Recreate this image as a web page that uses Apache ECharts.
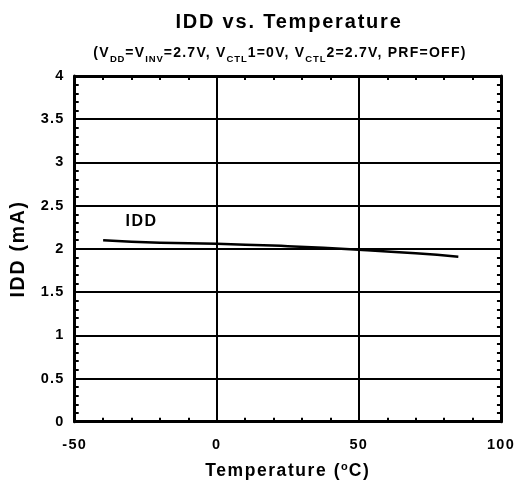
<!DOCTYPE html>
<html><head><meta charset="utf-8">
<script src="https://cdn.jsdelivr.net/npm/echarts@6/dist/echarts.min.js"></script>
<style>html,body{margin:0;padding:0;background:#fff}#c{width:518px;height:486px}</style>
</head><body><div id="c"></div>
<script>
// --- data ---
var temps = [-40, -20, 0, 25, 50, 70, 85];
var idd = [2.10, 2.07, 2.06, 2.03, 1.99, 1.95, 1.91];
var xTicks = [-50, 0, 50, 100];
var yTicks = [0, 0.5, 1, 1.5, 2, 2.5, 3, 3.5, 4];

// slightly wider tracking, like the reference typography
(function () {
  var P = CanvasRenderingContext2D.prototype;
  function setSp(ctx) {
    var m = /(\d+(?:\.\d+)?)px/.exec(ctx.font || '');
    if (m && 'letterSpacing' in ctx) ctx.letterSpacing = (parseFloat(m[1]) * 0.09).toFixed(2) + 'px';
  }
  var ft = P.fillText, mt = P.measureText, st = P.strokeText;
  P.fillText = function () { setSp(this); return ft.apply(this, arguments); };
  P.strokeText = function () { setSp(this); return st.apply(this, arguments); };
  P.measureText = function () { setSp(this); return mt.apply(this, arguments); };
})();

var F = 'Liberation Sans, Arial, sans-serif';
var chart = echarts.init(document.getElementById('c'));
var axisLine = {show: true, onZero: false, lineStyle: {color: '#000', width: 3}};
var tickIn = {show: true, inside: true, length: 5, lineStyle: {color: '#000', width: 2}};
var minorIn = {show: true, splitNumber: 5, length: 4, lineStyle: {color: '#000', width: 2}};
var tickLbl = {fontFamily: F, fontSize: 14.5, fontWeight: 'bold', color: '#000'};
chart.setOption({
  animation: false,
  title: [{
    text: 'IDD vs. Temperature', left: 284, top: 7, textAlign: 'center',
    textStyle: {fontFamily: F, fontSize: 20, fontWeight: 'bold', color: '#000'}
  }, {
    text: '{a|(V}{s|DD}{a|=V}{s|INV}{a|=2.7V, V}{s|CTL}{a|1=0V, V}{s|CTL}{a|2=2.7V, PRF=OFF)}',
    left: 275, top: 33, textAlign: 'center',
    textStyle: {rich: {
      a: {fontFamily: F, fontSize: 14, fontWeight: 'bold', color: '#000', height: 20},
      s: {fontFamily: F, fontSize: 9.5, fontWeight: 'bold', color: '#000', padding: [11, 0, 0, 0], height: 20}
    }}
  }],
  grid: {left: 73, top: 76, right: 13, bottom: 60, containLabel: false},
  xAxis: [{
    type: 'value', min: xTicks[0], max: xTicks[xTicks.length - 1], interval: 50, position: 'bottom',
    axisLine: axisLine, axisTick: tickIn, minorTick: minorIn,
    splitLine: {show: true, lineStyle: {color: '#000', width: 2}},
    axisLabel: Object.assign({margin: 15}, tickLbl),
    name: '{a|Temperature (}{s|o}{a|C)}', nameLocation: 'middle', nameGap: 35,
    nameTextStyle: {rich: {
      a: {fontFamily: F, fontSize: 17.5, fontWeight: 'bold', color: '#000', height: 20},
      s: {fontFamily: F, fontSize: 11, fontWeight: 'bold', color: '#000', padding: [0, 0, 9, 0], height: 20}
    }}
  }, {
    type: 'value', min: xTicks[0], max: xTicks[xTicks.length - 1], interval: 50, position: 'top',
    axisLine: axisLine, axisTick: tickIn, minorTick: minorIn,
    splitLine: {show: false}, axisLabel: {show: false}
  }],
  yAxis: [{
    type: 'value', min: yTicks[0], max: yTicks[yTicks.length - 1], interval: 0.5, position: 'left',
    axisLine: axisLine, axisTick: tickIn, minorTick: minorIn,
    splitLine: {show: true, lineStyle: {color: '#000', width: 2}},
    axisLabel: Object.assign({margin: 10}, tickLbl),
    name: 'IDD (mA)', nameLocation: 'middle', nameGap: 41, nameRotate: 90,
    nameTextStyle: {fontFamily: F, fontSize: 19.5, fontWeight: 'bold', color: '#000'}
  }, {
    type: 'value', min: yTicks[0], max: yTicks[yTicks.length - 1], interval: 0.5, position: 'right',
    axisLine: axisLine, axisTick: tickIn, minorTick: minorIn,
    splitLine: {show: false}, axisLabel: {show: false}
  }],
  series: [{
    type: 'line', name: 'IDD', data: temps.map(function (t, i) { return [t, idd[i]]; }),
    smooth: true, showSymbol: false, lineStyle: {color: '#000', width: 2.5},
    markPoint: {
      symbol: 'rect', symbolSize: [1, 1], itemStyle: {color: 'rgba(0,0,0,0)'},
      data: [{coord: [-26.5, 2.31], label: {show: true, position: 'inside', formatter: 'IDD', fontFamily: F, fontSize: 16, fontWeight: 'bold', color: '#000'}}]
    }
  }]
});
</script></body></html>
